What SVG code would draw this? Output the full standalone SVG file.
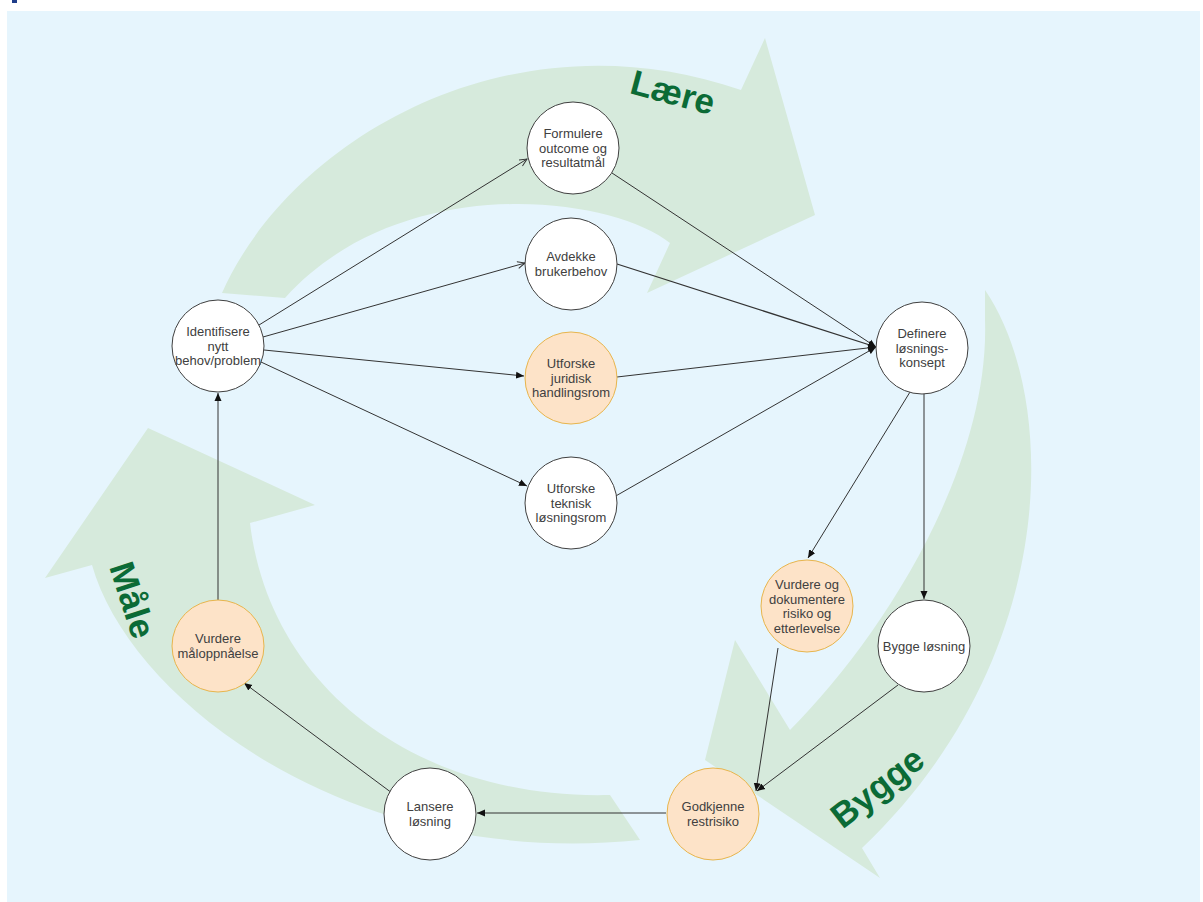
<svg xmlns="http://www.w3.org/2000/svg" width="1203" height="902" viewBox="0 0 1203 902">
<defs>
<style>
.bg{fill:#e6f5fd}
.band{fill:#d6eadc}
.node circle{stroke:#3f3f3f;stroke-width:1;fill:#ffffff}
.node circle.o{fill:#fde3c8;stroke:#e7b54d}
.node text{font-family:"Liberation Sans",Arial,sans-serif;font-size:13px;fill:#404040;text-anchor:middle}
.phase{font-family:"Liberation Sans",Arial,sans-serif;font-weight:bold;font-size:35px;fill:#0b6b36;text-anchor:middle}
.conn line{stroke:#333333;stroke-width:1;fill:none}
</style>
<marker id="af" markerUnits="userSpaceOnUse" markerWidth="10" markerHeight="10" refX="8" refY="4" orient="auto"><path d="M0,0.5 L8,4 L0,7.5 Z" fill="#111111"/></marker>
<marker id="ao" markerUnits="userSpaceOnUse" markerWidth="10" markerHeight="10" refX="8" refY="4" orient="auto"><path d="M0.5,0.5 L8,4 L0.5,7.5" fill="none" stroke="#333333" stroke-width="1"/></marker>
</defs>
<rect x="12" y="0" width="5" height="3" fill="#1f3d8a"/>
<rect class="bg" x="7" y="11" width="1193" height="891"/>
<g id="cycle-arrows">
<path id="arrow-laere" class="band" d="M222,293 C290,140 510,10 741,90 L765,38 L815,215 L647,293 L670,243 C610,195 400,170 285,298 Z"/>
<path id="arrow-bygge" class="band" d="M985,290 C1060,400 1060,660 862,848 L880,878 L705,760 L735,640 L790,730 C880,640 990,470 985,320 Z"/>
<path id="arrow-maale" class="band" d="M92,565 C130,700 350,870 640,840 L610,795 C420,800 270,690 250,523 L315,505 L148,428 L45,578 Z"/>
<text class="phase" transform="translate(673,92) rotate(15)" y="12.5">Lære</text>
<text class="phase" transform="translate(877,787) rotate(-38)" y="12.5">Bygge</text>
<text class="phase" transform="translate(133,600) rotate(72)" y="12.5">Måle</text>
</g>
<g id="connectors" class="conn">
<line x1="259" y1="325" x2="527" y2="159" marker-end="url(#ao)"/>
<line x1="263" y1="337" x2="525" y2="263" marker-end="url(#ao)"/>
<line x1="264" y1="350" x2="524" y2="376" marker-end="url(#af)"/>
<line x1="261" y1="362" x2="527" y2="486" marker-end="url(#af)"/>
<line x1="612" y1="173" x2="876" y2="347" marker-end="url(#af)"/>
<line x1="617" y1="264" x2="876" y2="347" marker-end="url(#af)" style="stroke-width:1.3"/>
<line x1="617" y1="377" x2="876" y2="347" marker-end="url(#af)"/>
<line x1="614" y1="497" x2="876" y2="347" marker-end="url(#af)"/>
<line x1="910" y1="392" x2="808" y2="558" marker-end="url(#af)"/>
<line x1="924" y1="394" x2="924" y2="599" marker-end="url(#af)"/>
<line x1="778" y1="648" x2="756" y2="791" marker-end="url(#af)"/>
<line x1="898" y1="685" x2="757" y2="791" marker-end="url(#af)"/>
<line x1="666" y1="813" x2="477" y2="813" marker-end="url(#af)"/>
<line x1="392" y1="793" x2="244" y2="683" marker-end="url(#af)"/>
<line x1="218" y1="600" x2="218" y2="393" marker-end="url(#af)"/>
</g>
<g id="n-identifisere" class="node"><circle cx="218" cy="346" r="46"/><text x="218" y="336">Identifisere</text><text x="218" y="350.6">nytt</text><text x="218" y="365.2">behov/problem</text></g>
<g id="n-formulere" class="node"><circle cx="573" cy="148" r="46"/><text x="573" y="138">Formulere</text><text x="573" y="152.6">outcome og</text><text x="573" y="167.2">resultatmål</text></g>
<g id="n-avdekke" class="node"><circle cx="571" cy="264" r="46"/><text x="571" y="261">Avdekke</text><text x="571" y="275.6">brukerbehov</text></g>
<g id="n-juridisk" class="node"><circle class="o" cx="571" cy="378" r="46"/><text x="571" y="368">Utforske</text><text x="571" y="382.6">juridisk</text><text x="571" y="397.2">handlingsrom</text></g>
<g id="n-teknisk" class="node"><circle cx="571" cy="503" r="46"/><text x="571" y="493">Utforske</text><text x="571" y="507.6">teknisk</text><text x="571" y="522.2">løsningsrom</text></g>
<g id="n-definere" class="node"><circle cx="922" cy="348" r="46"/><text x="922" y="338">Definere</text><text x="922" y="352.6">løsnings-</text><text x="922" y="367.2">konsept</text></g>
<g id="n-vurdere-risiko" class="node"><circle class="o" cx="807" cy="606" r="46"/><text x="807" y="589">Vurdere og</text><text x="807" y="603.6">dokumentere</text><text x="807" y="618.2">risiko og</text><text x="807" y="632.8">etterlevelse</text></g>
<g id="n-bygge" class="node"><circle cx="924" cy="646" r="46"/><text x="924" y="650.5">Bygge løsning</text></g>
<g id="n-godkjenne" class="node"><circle class="o" cx="713" cy="814" r="46"/><text x="713" y="811">Godkjenne</text><text x="713" y="825.6">restrisiko</text></g>
<g id="n-lansere" class="node"><circle cx="430" cy="814" r="46"/><text x="430" y="811">Lansere</text><text x="430" y="825.6">løsning</text></g>
<g id="n-vurdere-maal" class="node"><circle class="o" cx="218" cy="646" r="46"/><text x="218" y="643">Vurdere</text><text x="218" y="657.6">måloppnåelse</text></g>
</svg>
